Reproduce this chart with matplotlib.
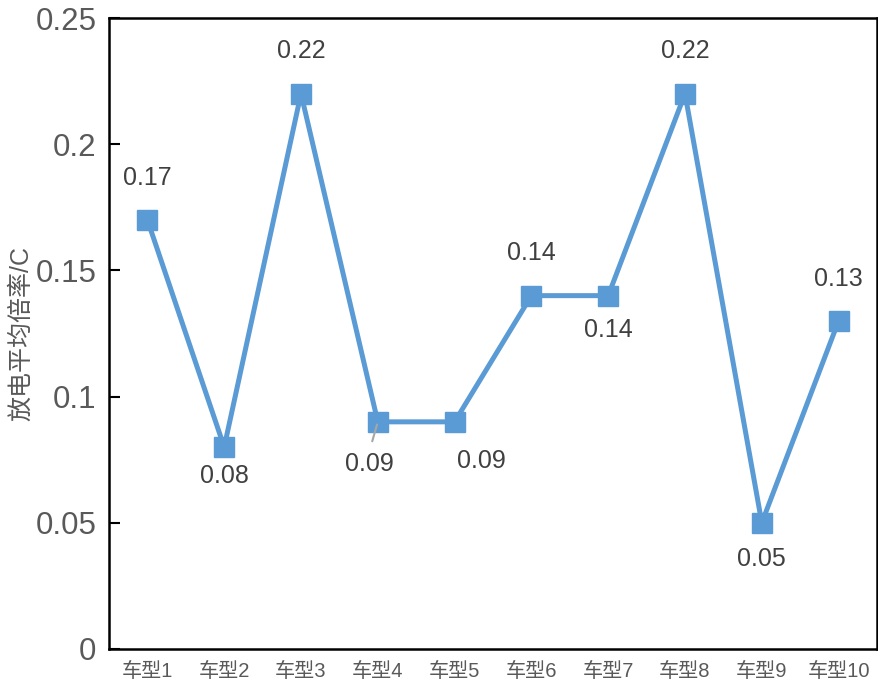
import matplotlib.pyplot as plt

plt.rcParams['font.family'] = ['Liberation Sans', 'Noto Sans CJK SC', 'DejaVu Sans']

# -------------------- Data --------------------
categories = ['车型1', '车型2', '车型3', '车型4', '车型5', '车型6', '车型7', '车型8', '车型9', '车型10']
values = [0.17, 0.08, 0.22, 0.09, 0.09, 0.14, 0.14, 0.22, 0.05, 0.13]
# label offsets (points): dx, dy
label_offsets = [(0, 30), (0, -21), (0, 31), (-6, -30), (19, -28),
                 (0, 31), (0, -25), (0, 31), (0, -26), (0, 30)]
yticks = [0, 0.05, 0.1, 0.15, 0.2, 0.25]
ytick_labels = ['0', '0.05', '0.1', '0.15', '0.2', '0.25']

# -------------------- Plot --------------------
fig = plt.figure(figsize=(8.79, 6.91), dpi=100)
ax = fig.add_axes([109 / 879, 1 - 649 / 691, 768 / 879, 631 / 691])

x = list(range(len(categories)))
ax.plot(x, values, color='#5B9BD5', linewidth=3.6, marker='s', markersize=15,
        markerfacecolor='#5B9BD5', markeredgecolor='#5B9BD5')

for i, v in enumerate(values):
    dx, dy = label_offsets[i]
    ax.annotate(f'{v:.2f}', (i, v), xytext=(dx, dy), textcoords='offset points',
                ha='center', va='center', fontsize=18, color='#404040')

# leader line for the fourth label
ax.annotate('', (3, values[3]), xytext=(-4, -14), textcoords='offset points',
            arrowprops=dict(arrowstyle='-', color='#A6A6A6', lw=1.5,
                            shrinkA=0, shrinkB=2))

ax.set_xlim(-0.5, len(categories) - 0.5)
ax.set_ylim(0, 0.25)
ax.set_xticks(x)
ax.set_xticklabels(categories, fontsize=14.5, color='#595959')
ax.set_yticks(yticks)
ax.set_yticklabels(ytick_labels, fontsize=22.5, color='#595959')
ax.tick_params(axis='x', length=0, pad=9)
ax.tick_params(axis='y', direction='in', length=8, width=1.5, pad=9)
ax.set_ylabel('放电平均倍率/C', fontsize=18, color='#595959', labelpad=2)

for s in ax.spines.values():
    s.set_color('black')
    s.set_linewidth(1.8)

fig.savefig('out.png', dpi=100)
